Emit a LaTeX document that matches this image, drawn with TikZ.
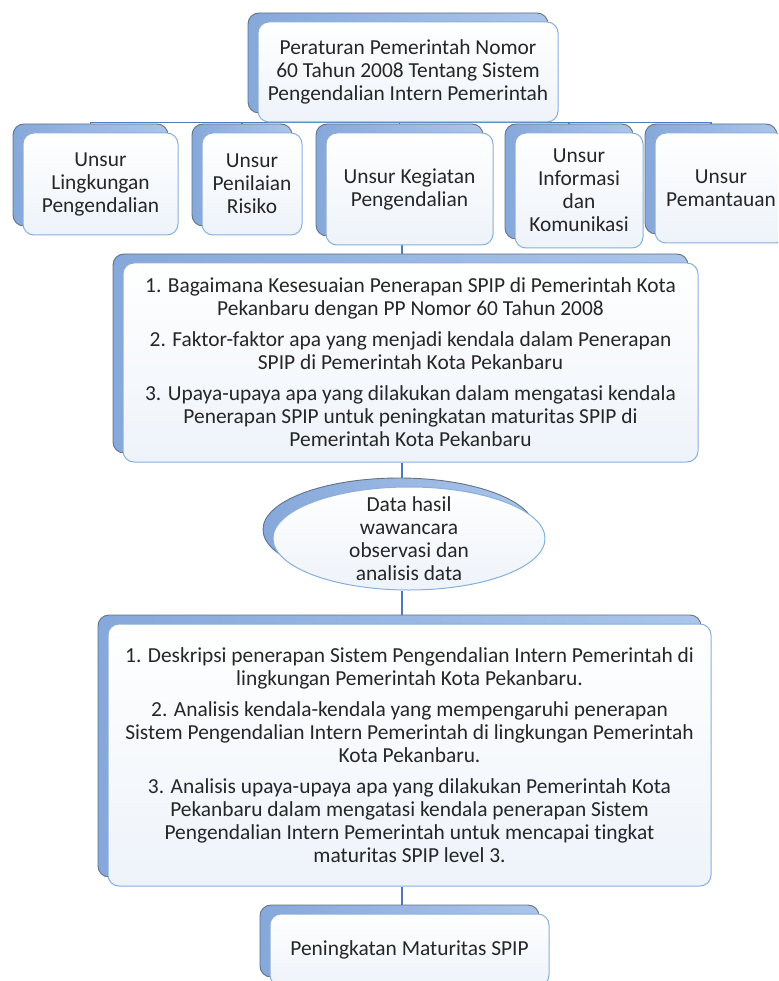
\documentclass[tikz,border=0pt]{standalone}
\usepackage{fontspec}
\setmainfont{Carlito}[Ligatures=NoCommon]
\usetikzlibrary{shapes.geometric,shadows}
\definecolor{backL}{HTML}{86A8DA}
\definecolor{backR}{HTML}{ABC5EA}
\definecolor{backline}{HTML}{66727F}
\definecolor{frontline}{HTML}{86AFE0}
\definecolor{frontfill}{HTML}{EEF3FA}
\definecolor{connblue}{HTML}{4A7EBB}
\definecolor{txtgray}{HTML}{262626}
\pgfdeclarelayer{bg}
\pgfsetlayers{bg,main}

\begin{document}
\begin{tikzpicture}[line cap=round,line join=round,x=1pt,y=-1pt,
  conn/.style={draw=connblue,line width=1.3pt},
  backcopy/.style={general shadow={shadow xshift=-10pt,shadow yshift=9pt,
    draw=backline,line width=0.9pt,left color=backL,right color=backR}},
  box/.style={backcopy,draw=frontline,line width=1pt,top color=white,
    bottom color=frontfill,rounded corners=11pt,inner sep=0pt,align=center,
    text=txtgray,font=\fontsize{21.4}{23}\selectfont},
  oval/.style={backcopy,ellipse,draw=frontline,line width=1pt,top color=white,
    bottom color=frontfill,inner sep=0pt},
  ovaltext/.style={align=center,text=txtgray,font=\fontsize{21.4}{23}\selectfont}]

\useasboundingbox (0,0) rectangle (778,981);
\clip (0,0) rectangle (778,981);
\coordinate (spine) at (402,0);

%% top
\node[box,minimum width=300pt,minimum height=100pt] (pp) at (408,72)
  {Peraturan Pemerintah Nomor\\60 Tahun 2008 Tentang Sistem\\Pengendalian Intern Pemerintah};

%% unsur
\node[box,minimum width=155pt,minimum height=102pt] (u1) at (100.5,184) {Unsur\\Lingkungan\\Pengendalian};
\node[box,minimum width=100pt,minimum height=102pt] (u2) at (252,184) {Unsur\\Penilaian\\Risiko};
\node[box,minimum width=167pt,minimum height=112pt] (u3) at (409.5,189) {Unsur Kegiatan\\Pengendalian};
\node[box,minimum width=128pt,minimum height=115pt] (u4) at (579,190.5) {Unsur\\Informasi\\dan\\Komunikasi};
\node[box,minimum width=132pt,minimum height=110pt] (u5) at (721,188) {Unsur\\Pemantauan};

%% rumusan
\node[box,minimum width=575pt,minimum height=199pt] (q) at (410.5,362.5)
  {1. Bagaimana Kesesuaian Penerapan SPIP di Pemerintah Kota\\Pekanbaru dengan PP Nomor 60 Tahun 2008\\[8pt]
   2. Faktor-faktor apa yang menjadi kendala dalam Penerapan\\SPIP di Pemerintah Kota Pekanbaru\\[8pt]
   3. Upaya-upaya apa yang dilakukan dalam mengatasi kendala\\Penerapan SPIP untuk peningkatan maturitas SPIP di\\Pemerintah Kota Pekanbaru};

%% data
\node[oval,minimum width=272pt,minimum height=103pt] (el) at (409,538.5) {};
\node[ovaltext] (elt) at (el.center) {Data hasil\\wawancara\\observasi dan\\analisis data};

%% hasil
\node[box,minimum width=603pt,minimum height=262pt] (a) at (409.5,755)
  {1. Deskripsi penerapan Sistem Pengendalian Intern Pemerintah di\\lingkungan Pemerintah Kota Pekanbaru.\\[8pt]
   2. Analisis kendala-kendala yang mempengaruhi penerapan\\Sistem Pengendalian Intern Pemerintah di lingkungan Pemerintah\\Kota Pekanbaru.\\[8pt]
   3. Analisis upaya-upaya apa yang dilakukan Pemerintah Kota\\Pekanbaru dalam mengatasi kendala penerapan Sistem\\Pengendalian Intern Pemerintah untuk mencapai tingkat\\maturitas SPIP level 3.};

\node[box,minimum width=279pt,minimum height=72pt] (f) at (409.5,950) {Peningkatan Maturitas SPIP};

%% lines
\begin{pgfonlayer}{bg}
\foreach \u in {u1,u2,u3,u4,u5}
  \draw[conn] ([xshift=-10pt]\u.north) |- ([xshift=-10pt]pp.south);
\draw[conn] (u3.south -| spine) -- (q.north -| spine);
\draw[conn] (q.south -| spine) -- (el.north -| spine);
\draw[conn] (el.south -| spine) -- (a.north -| spine);
\draw[conn] (a.south -| spine) -- (f.north -| spine);
\end{pgfonlayer}
\end{tikzpicture}
\end{document}
